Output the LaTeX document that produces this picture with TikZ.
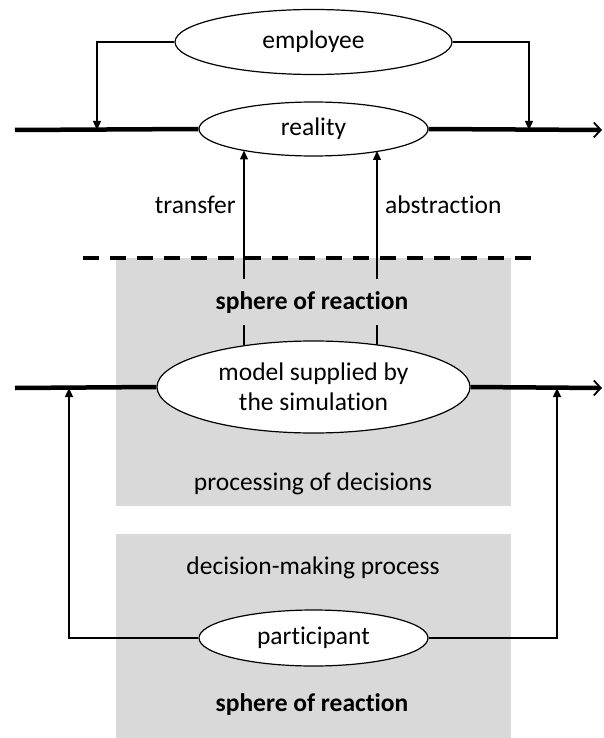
\documentclass[tikz,border=0pt]{standalone}
\usepackage{fontspec}
\setmainfont{Carlito}[Ligatures={NoCommon,NoRare,NoContextual}]
\usetikzlibrary{arrows.meta,shapes.geometric}
\definecolor{boxgray}{HTML}{D9D9D9}
\tikzset{
  ell/.style={ellipse, draw=black, line width=1.2pt, fill=white, inner sep=0pt, align=center},
  conn/.style={draw=black, line width=1.3pt},
  tip/.style={-{Triangle[length=9pt,width=8pt]}},
  mainline/.style={draw=black, line width=4.5pt},
  endtip/.style={-{Straight Barb[length=7pt,width=15pt,line width=1.8pt]}},
  lbl/.style={inner sep=0pt},
  panel/.style={fill=boxgray, draw=none}
}
\begin{document}
\begin{tikzpicture}[x=1pt,y=-1pt, font=\fontsize{25.5}{30}\selectfont]
\useasboundingbox (0,0) rectangle (603,738);
% gray panels
\path[panel] (116,258) rectangle (511,506);
\path[panel] (116,534) rectangle (511,738);
% dashed separator
\draw[line width=3.5pt, dash pattern=on 16pt off 11pt] (83,258) -- (535,258);

% nodes
\node[ell, minimum width=277pt, minimum height=65pt] (emp) at (313.5,42) {employee};
\node[ell, minimum width=229pt, minimum height=54pt] (real) at (313.5,129) {reality};
\node[ell, minimum width=313pt, minimum height=92pt] (model) at (313.5,387) {model supplied by\\the simulation};
\node[ell, minimum width=229pt, minimum height=56pt] (part) at (313.5,638) {participant};

\node[lbl, anchor=east] (transfer) at (236,205) {transfer};
\node[lbl, anchor=west] (abstr) at (385,205) {abstraction};
\node[lbl] (sphere1) at (312,303) {\bfseries sphere of reaction};
\node[lbl] (proc) at (313,484) {processing of decisions};
\node[lbl] (dec) at (313,568) {decision-making process};
\node[lbl] (sphere2) at (312,705) {\bfseries sphere of reaction};

% coordinates
\coordinate (l1s) at (15,130);
\coordinate (l1e) at (602,130);
\coordinate (l2s) at (15,388);
\coordinate (l2e) at (602,388);
\coordinate (j1) at (97,130);
\coordinate (j2) at (529,130);
\coordinate (j3) at (69,388);
\coordinate (j4) at (557,388);
\coordinate (aL1) at (244,279);
\coordinate (aL2) at (244,325);
\coordinate (aR1) at (377,279);
\coordinate (aR2) at (377,325);
\coordinate (rL) at (244,150.5);
\coordinate (rR) at (377,151);
\coordinate (mL) at (244,345);
\coordinate (mR) at (377,345);

% main lines
\draw[mainline] (l1s) -- (real.west);
\draw[mainline, endtip] (real.east) -- (l1e);
\draw[mainline] (l2s) -- (model.west);
\draw[mainline, endtip] (model.east) -- (l2e);

% employee connectors
\draw[conn, tip] (emp.west) -| (j1);
\draw[conn, tip] (emp.east) -| (j2);

% participant connectors
\draw[conn, tip] (part.west) -| (j3);
\draw[conn, tip] (part.east) -| (j4);

% transfer / abstraction
\draw[conn, tip] (aL1) -- (rL);
\draw[conn, tip] (aR1) -- (rR);
\draw[conn] (mL) -- (aL2);
\draw[conn] (mR) -- (aR2);
\end{tikzpicture}
\end{document}
